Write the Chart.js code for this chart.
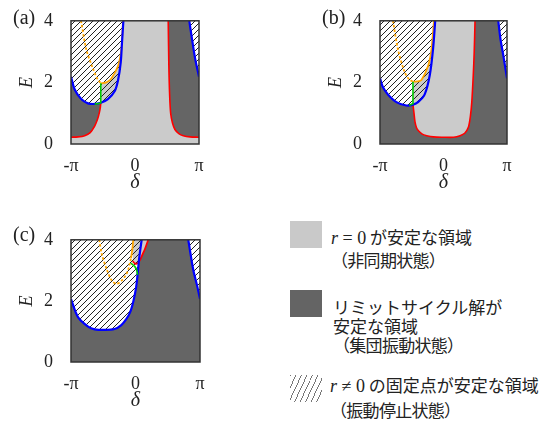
<!DOCTYPE html>
<html>
<head>
<meta charset="utf-8">
<script src="https://cdn.jsdelivr.net/npm/chart.js@4.4.0/dist/chart.umd.min.js"></script>
<style>
body{margin:0;background:#fff;width:555px;height:423px;position:relative;overflow:hidden}
.panel{position:absolute}
.tag{position:absolute;font-family:"Liberation Serif",serif;font-size:20px;line-height:20px;color:#222}
.sw{position:absolute;width:32px;height:27px}
.hatch{background:repeating-linear-gradient(115deg,#777 0px,#777 0.9px,transparent 0.9px,transparent 5px)}
.txt{position:absolute;font-family:"Noto Sans CJK JP",sans-serif;font-size:17px;color:#222;white-space:nowrap}
.m{font-family:"Liberation Serif",serif;font-size:18px}
.p{letter-spacing:-0.7px}
</style>
</head>
<body>
<div class="panel" style="left:0;top:0"><canvas id="ca" width="215" height="200"></canvas></div>
<div class="panel" style="left:309px;top:0"><canvas id="cb" width="215" height="200"></canvas></div>
<div class="panel" style="left:0;top:219px"><canvas id="cc" width="215" height="199"></canvas></div>
<div class="tag" style="left:13px;top:7px">(a)</div>
<div class="tag" style="left:322px;top:7px">(b)</div>
<div class="tag" style="left:13px;top:224px">(c)</div>

<div class="sw" style="left:290px;top:221px;background:#c9c9c9"></div>
<div class="txt" style="left:331px;top:226px;line-height:21px"><span class="m"><i>r</i> = 0</span> が安定な領域<br><span class="p">（非同期状態）</span></div>
<div class="sw" style="left:290px;top:290px;background:#646464"></div>
<div class="txt" style="left:333px;top:297px;line-height:19px">リミットサイクル解が<br>安定な領域<br><span class="p">（集団振動状態）</span></div>
<div class="sw hatch" style="left:290px;top:375px"></div>
<div class="txt" style="left:330px;top:373px;line-height:23px"><span class="m"><i>r</i> ≠ 0</span> の固定点が安定な領域<br><span class="p">（振動停止状態）</span></div>

<script>
const PI = Math.PI
const SERIF = '"Liberation Serif", "Times New Roman", serif'
const LIGHT = '#cbcbcb'
const DARK = '#656565'

const xTicks = [-PI, 0, PI]
const xLabels = ['-π', '0', 'π']
const yTicks = [0, 2, 4]

// (a)
const redA_left = [[-PI,0.22],[-2.8,0.23],[-2.47,0.27],[-2.2,0.37],[-1.98,0.58],[-1.84,0.80],[-1.75,1.02],[-1.70,1.2],[-1.68,1.34]]
const redA_right = [[1.63,4],[1.66,2.6],[1.70,1.6],[1.75,1.0],[1.84,0.68],[1.96,0.47],[2.15,0.34],[2.37,0.27],[2.7,0.23],[PI,0.22]]
const blueA_left = [[-PI,2.18],[-2.96,1.77],[-2.64,1.46],[-2.31,1.32],[-1.98,1.30],[-1.68,1.34],[-1.33,1.46],[-1.0,1.71],[-0.83,2.08],[-0.70,2.65],[-0.64,3.27],[-0.57,4]]
const blueA_right = [[2.665,4],[2.80,3.4],[2.95,2.78],[PI,2.18]]
const orangeA_left = [[-2.65,4],[-2.39,3.07],[-2.06,2.44],[-1.85,2.12],[-1.68,1.97]]
const orangeA_right = [[-1.68,1.97],[-1.40,2.0],[-1.16,2.13],[-0.83,2.54],[-0.67,3.07],[-0.59,4]]
const greenA = [[-1.98,1.30],[-1.80,1.31],[-1.68,1.34],[-1.68,1.97]]

// (b)
const redB = [[-1.51,1.28],[-1.46,1.0],[-1.41,0.72],[-1.33,0.52],[-1.25,0.44],[-1.05,0.32],[-0.83,0.27],[-0.5,0.23],[0,0.22],[0.5,0.22],[0.82,0.27],[1.05,0.35],[1.23,0.54],[1.33,0.9],[1.40,1.36],[1.47,2.2],[1.52,3.0],[1.56,4]]
const blueB_left = [[-PI,2.13],[-3.0,1.85],[-2.75,1.61],[-2.33,1.36],[-1.84,1.25],[-1.51,1.28],[-1.26,1.36],[-0.93,1.61],[-0.68,2.23],[-0.52,3.06],[-0.41,4]]
const blueB_right = [[2.71,4],[2.82,3.4],[2.95,2.91],[PI,2.13]]
const orangeB_left = [[-2.50,4],[-2.25,3.06],[-1.92,2.33],[-1.70,2.10],[-1.51,2.02]]
const orangeB_right = [[-1.51,2.02],[-1.30,2.03],[-1.09,2.08],[-0.76,2.54],[-0.60,3.06],[-0.47,4]]
const greenB = [[-1.70,1.26],[-1.51,1.31],[-1.51,2.02]]

// (c)
const blueC_left = [[-PI,2.06],[-2.80,1.47],[-2.31,1.16],[-1.99,1.07],[-1.50,1.05],[-1.02,1.08],[-0.69,1.21],[-0.45,1.4],[-0.25,1.65],[-0.10,2.0],[0.02,2.4],[0.10,2.85],[0.18,3.4],[0.30,4]]
const blueC_right = [[2.57,4],[2.81,3.03],[3.0,2.5],[PI,2.06]]
const orangeC_dot = [[-1.76,4],[-1.65,3.55],[-1.40,3.03],[-1.16,2.67],[-0.92,2.56],[-0.65,2.68],[-0.45,2.87],[-0.35,3.03],[-0.22,3.4]]
const orangeC_solid = [[-0.22,3.4],[-0.15,3.7],[-0.11,4]]
const greenC = [[-0.23,3.24],[-0.04,3.13],[0.06,3.0],[0.10,2.85]]
const redC = [[-0.14,3.3],[-0.02,3.22],[0.12,3.24],[0.22,3.34],[0.36,3.55],[0.46,3.7],[0.62,4]]

const full = [[-PI,4],[PI,4]]

function xy(pts){ return pts.map(p => ({x:p[0], y:p[1]})) }

function hatch(id){
  const tile = document.createElement('canvas')
  tile.width = 6; tile.height = 6
  const g = tile.getContext('2d')
  g.strokeStyle = '#222'
  g.lineWidth = 1
  g.beginPath()
  g.moveTo(0,6); g.lineTo(6,0)
  g.moveTo(-1,1); g.lineTo(1,-1)
  g.moveTo(5,7); g.lineTo(7,5)
  g.stroke()
  return document.getElementById(id).getContext('2d').createPattern(tile,'repeat')
}

function area(pts, fill, color, order){
  return {data:xy(pts), fill:fill, backgroundColor:color, borderColor:'transparent', borderWidth:0,
    pointRadius:0, tension:0.3, order:order, clip:0}
}
function curve(pts, color, width, order, dash, tension){
  return {data:xy(pts), fill:false, borderColor:color, borderWidth:width, borderDash:dash || [],
    pointRadius:0, tension:tension === undefined ? 0.3 : tension, order:order, clip:0}
}

const frame = {
  id:'frame',
  afterDatasetsDraw(chart){
    const {ctx, chartArea:a} = chart
    ctx.save()
    ctx.strokeStyle = '#333'
    ctx.lineWidth = 1.5
    ctx.strokeRect(a.left, a.top, a.right - a.left, a.bottom - a.top)
    ctx.restore()
  }
}

function options(padRight){
  return {
    responsive:false,
    animation:false,
    layout:{padding:{top:15, right:padRight, left:0, bottom:0}},
    plugins:{legend:{display:false}, tooltip:{enabled:false}},
    scales:{
      x:{
        type:'linear', min:-PI, max:PI,
        grid:{display:false}, border:{display:false},
        afterBuildTicks:s => { s.ticks = xTicks.map(v => ({value:v})) },
        afterFit:s => { s.height = 56 },
        ticks:{autoSkip:false, maxRotation:0, padding:3, color:'#222',
          font:{family:SERIF, size:18}, callback:(v, i) => xLabels[i]},
        title:{display:true, text:'δ', color:'#222',
          font:{family:SERIF, size:20, style:'italic'}, padding:{top:0, bottom:5}}
      },
      y:{
        type:'linear', min:0, max:4,
        grid:{display:false}, border:{display:false},
        afterBuildTicks:s => { s.ticks = yTicks.map(v => ({value:v})) },
        afterFit:s => { s.width = 71 },
        ticks:{padding:10, color:'#222', font:{family:SERIF, size:18}},
        title:{display:true, text:'E', color:'#222',
          font:{family:SERIF, size:18, style:'italic'}, padding:{top:16, bottom:0}}
      }
    }
  }
}

const hA = hatch('ca'), hB = hatch('cb'), hC = hatch('cc')

new Chart(document.getElementById('ca'), {
  type:'line',
  data:{datasets:[
    area(full, 'start', LIGHT, 9),
    area(redA_left, 'end', DARK, 8),
    area(redA_right, 'end', DARK, 8),
    area(blueA_left, 'end', '#fff', 7),
    area(blueA_right, 'end', '#fff', 7),
    area(orangeA_right, 3, LIGHT, 6),
    area(blueA_left, 'end', hA, 5),
    area(blueA_right, 'end', hA, 5),
    curve(redA_left, '#ff0000', 1.6, 4),
    curve(redA_right, '#ff0000', 1.6, 4),
    curve(orangeA_left, '#ffa500', 1.8, 3, [2.5,2]),
    curve(orangeA_right, '#ffa500', 1.8, 3),
    curve(blueA_left, '#0000ff', 2.2, 2),
    curve(blueA_right, '#0000ff', 2.2, 2),
    curve(greenA, '#00cc00', 1.6, 1, [], 0)
  ]},
  options:options(16),
  plugins:[frame]
})

new Chart(document.getElementById('cb'), {
  type:'line',
  data:{datasets:[
    area(full, 'start', DARK, 9),
    area(redB, 'end', LIGHT, 8),
    area(blueB_left, 'end', '#fff', 7),
    area(blueB_right, 'end', '#fff', 7),
    area(orangeB_right, 2, LIGHT, 6),
    area(blueB_left, 'end', hB, 5),
    area(blueB_right, 'end', hB, 5),
    curve(redB, '#ff0000', 1.6, 4),
    curve(orangeB_left, '#ffa500', 1.8, 3, [2.5,2]),
    curve(orangeB_right, '#ffa500', 1.8, 3),
    curve(blueB_left, '#0000ff', 2.2, 2),
    curve(blueB_right, '#0000ff', 2.2, 2),
    curve(greenB, '#00cc00', 1.6, 1, [], 0)
  ]},
  options:options(17),
  plugins:[frame]
})

new Chart(document.getElementById('cc'), {
  type:'line',
  data:{datasets:[
    area(full, 'start', DARK, 9),
    area(blueC_left, 'end', '#fff', 8),
    area(blueC_right, 'end', '#fff', 8),
    area(redC, 'end', LIGHT, 7),
    area(blueC_left, 'end', hC, 6),
    area(blueC_right, 'end', hC, 6),
    curve(redC, '#ff0000', 1.8, 4),
    curve(orangeC_dot, '#ffa500', 1.8, 3, [2.5,2]),
    curve(orangeC_solid, '#ffa500', 1.8, 3),
    curve(blueC_left, '#0000ff', 2.2, 2),
    curve(blueC_right, '#0000ff', 2.2, 2),
    curve(greenC, '#00cc00', 1.6, 1)
  ]},
  options:options(15),
  plugins:[frame]
})
</script>
</body>
</html>
